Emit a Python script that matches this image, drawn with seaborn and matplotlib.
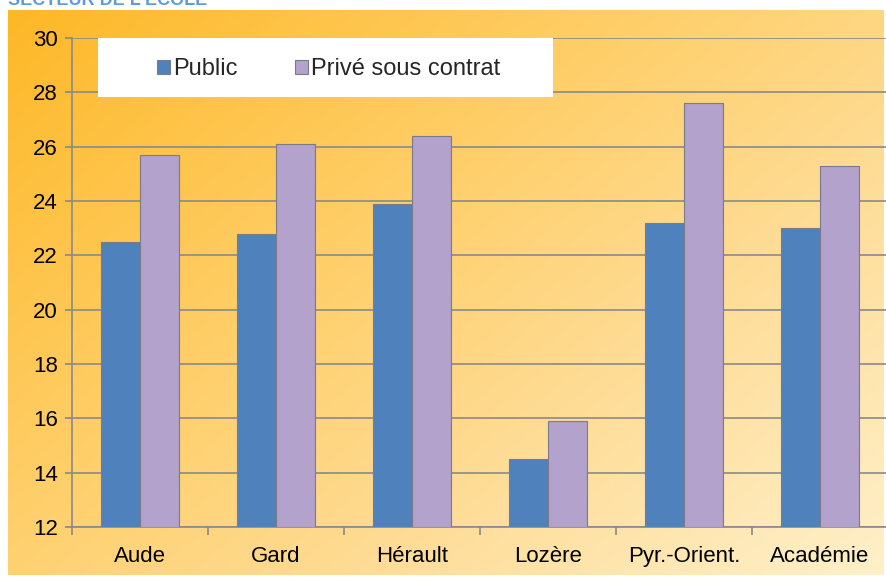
import numpy as np
import pandas as pd
import matplotlib
matplotlib.use("Agg")
import matplotlib.pyplot as plt
import seaborn as sns
from matplotlib.colors import LinearSegmentedColormap
from matplotlib.patches import Rectangle

categories = ["Aude", "Gard", "Hérault", "Lozère", "Pyr.-Orient.", "Académie"]
public = [22.5, 22.8, 23.9, 14.5, 23.2, 23.0]
prive = [25.7, 26.1, 26.4, 15.9, 27.6, 25.3]
series = ["Public", "Privé sous contrat"]
yticks = [12, 14, 16, 18, 20, 22, 24, 26, 28, 30]

df = pd.DataFrame({
    "cat": categories * 2,
    "val": public + prive,
    "serie": [series[0]] * len(categories) + [series[1]] * len(categories),
})

sns.set_theme(style="white")
plt.rcParams["font.family"] = ["Liberation Sans", "DejaVu Sans"]

fig = plt.figure(figsize=(8.87, 5.78), dpi=100)
fig.patch.set_facecolor("white")

# background gradient panel
bg = fig.add_axes([8 / 887, 3 / 578, 876 / 887, 565 / 578], zorder=0)
cmap = LinearSegmentedColormap.from_list(
    "bg", ["#FDB827", "#FFCB5E", "#FEDC95", "#FEF0CA"])
xx, yy = np.meshgrid(np.linspace(0, 1, 300), np.linspace(0, 1, 200))
grad = (xx * 0.55 + yy * 0.45)
bg.imshow(grad, cmap=cmap, aspect="auto", extent=[0, 1, 0, 1], origin="upper")
bg.set_axis_off()

# title, cut off at the top edge as in the source
fig.text(8 / 887, 0.999, "SECTEUR DE L'ÉCOLE", color="#5B9BE0", fontsize=13,
         fontweight="bold", ha="left", va="center")

ax = fig.add_axes([72 / 887, 1 - 527 / 578, 816 / 887, (527 - 38) / 578], zorder=1)
ax.set_facecolor("none")
sns.barplot(data=df, x="cat", y="val", hue="serie", ax=ax,
            palette=["#4F81BD", "#B3A2CC"], width=0.57, gap=0,
            edgecolor="#7a7a8a", linewidth=0.8, saturation=1, zorder=3)

ax.set_ylim(12, 30)
ax.set_xlim(-0.5, len(categories) - 0.5)
ax.set_yticks(yticks)
ax.set_xlabel("")
ax.set_ylabel("")
ax.yaxis.grid(True, color="#8a8a8a", linewidth=1.2, zorder=0)
ax.set_axisbelow(True)
for s in ["top", "right"]:
    ax.spines[s].set_visible(False)
for s in ["left", "bottom"]:
    ax.spines[s].set_color("#8a8a8a")
    ax.spines[s].set_linewidth(1.2)
ax.tick_params(axis="y", which="major", left=True, length=5, color="#8a8a8a",
               labelsize=16, pad=5, labelcolor="black")
ax.tick_params(axis="x", which="major", bottom=False, labelsize=16, pad=8,
               labelcolor="black")
ax.set_xticks(np.arange(-0.5, len(categories), 1.0), minor=True)
ax.tick_params(axis="x", which="minor", bottom=True, length=6, color="#8a8a8a",
               width=1.2)

# legend with white box
ax.add_patch(Rectangle((26 / 816, 1 - 59 / 489), 455 / 816, 59 / 489,
                       transform=ax.transAxes, facecolor="white",
                       edgecolor="none", zorder=4))
handles, labels = ax.get_legend_handles_labels()
ax.get_legend().remove()
leg = ax.legend(handles, labels, loc="center left",
                bbox_to_anchor=(85 / 816, 1 - 31 / 489), ncol=2, frameon=False,
                fontsize=17, handlelength=0.55, handleheight=0.55,
                handletextpad=0.15, columnspacing=2.4, borderpad=0,
                borderaxespad=0)
leg.set_zorder(5)

fig.savefig("out.png", dpi=100, facecolor=fig.get_facecolor())
